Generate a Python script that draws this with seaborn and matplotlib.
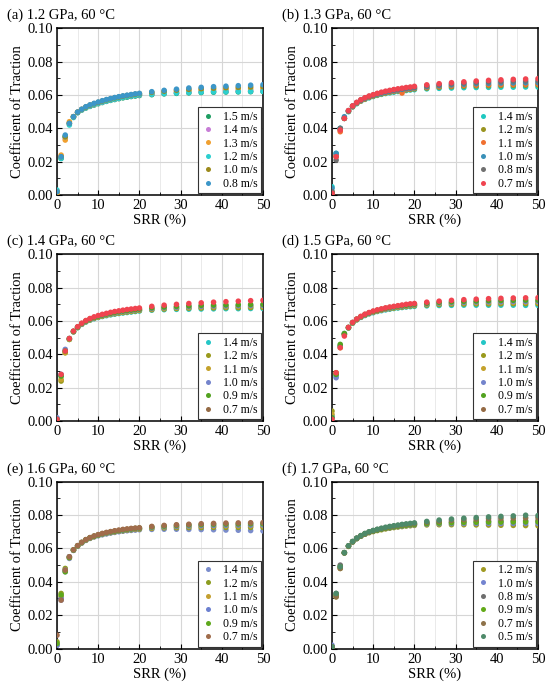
"""
Traction curves: coefficient of traction vs SRR at 60 C for six contact pressures.
Six panels, one per pressure, each with six entrainment speeds.
"""

import numpy as np
import pandas as pd
import matplotlib
matplotlib.use("Agg")
import matplotlib.pyplot as plt
from matplotlib.lines import Line2D
from matplotlib.ticker import MultipleLocator, FormatStrFormatter
import seaborn as sns

# ------------------------------------------------------------------ data
SRR = [0, 1, 2, 3, 4, 5, 6, 7, 8, 9, 10, 11, 12, 13, 14, 15, 16, 17, 18, 19, 20,
       23, 26, 29, 32, 35, 38, 41, 44, 47, 50]

TITLES = ["(a) 1.2 GPa, 60 \u00b0C", "(b) 1.3 GPa, 60 \u00b0C", "(c) 1.4 GPa, 60 \u00b0C",
          "(d) 1.5 GPa, 60 \u00b0C", "(e) 1.6 GPa, 60 \u00b0C", "(f) 1.7 GPa, 60 \u00b0C"]

SPEEDS_A = ["1.5 m/s", "1.4 m/s", "1.3 m/s", "1.2 m/s", "1.0 m/s", "0.8 m/s"]
SPEEDS_B = ["1.4 m/s", "1.2 m/s", "1.1 m/s", "1.0 m/s", "0.8 m/s", "0.7 m/s"]
SPEEDS_C = ["1.4 m/s", "1.2 m/s", "1.1 m/s", "1.0 m/s", "0.9 m/s", "0.7 m/s"]
SPEEDS_D = ["1.4 m/s", "1.2 m/s", "1.1 m/s", "1.0 m/s", "0.9 m/s", "0.7 m/s"]
SPEEDS_E = ["1.4 m/s", "1.2 m/s", "1.1 m/s", "1.0 m/s", "0.9 m/s", "0.7 m/s"]
SPEEDS_F = ["1.2 m/s", "1.0 m/s", "0.8 m/s", "0.9 m/s", "0.7 m/s", "0.5 m/s"]

COT_A = [
    [0.002, 0.022, 0.035, 0.043, 0.047, 0.0495, 0.051, 0.0522, 0.0532, 0.054, 0.0548, 0.0555, 0.0562, 0.0568, 0.0573, 0.0578, 0.0583, 0.0587, 0.0591, 0.0594, 0.0597, 0.0602, 0.0607, 0.061, 0.0613, 0.0615, 0.0617, 0.0618, 0.0619, 0.062, 0.0621],
    [0.002, 0.023, 0.034, 0.043, 0.047, 0.0495, 0.0512, 0.0525, 0.0535, 0.0543, 0.0551, 0.0558, 0.0565, 0.0571, 0.0577, 0.0582, 0.0587, 0.0591, 0.0595, 0.0598, 0.0601, 0.0607, 0.0612, 0.0616, 0.0619, 0.0622, 0.0624, 0.0626, 0.0627, 0.0628, 0.0629],
    [0.001, 0.024, 0.033, 0.044, 0.047, 0.0497, 0.0513, 0.0527, 0.0537, 0.0546, 0.0554, 0.0561, 0.0568, 0.0574, 0.058, 0.0585, 0.059, 0.0594, 0.0598, 0.0602, 0.0605, 0.0612, 0.0618, 0.0623, 0.0627, 0.063, 0.0633, 0.0635, 0.0637, 0.0638, 0.064],
    [0.003, 0.022, 0.035, 0.042, 0.0465, 0.0494, 0.0511, 0.0524, 0.0534, 0.0543, 0.0551, 0.0558, 0.0564, 0.057, 0.0576, 0.0581, 0.0586, 0.059, 0.0594, 0.0598, 0.0601, 0.0605, 0.0609, 0.0612, 0.0615, 0.0617, 0.0619, 0.062, 0.0621, 0.0622, 0.0622],
    [0.002, 0.023, 0.035, 0.043, 0.047, 0.0497, 0.0514, 0.0528, 0.0539, 0.0548, 0.0556, 0.0564, 0.0571, 0.0577, 0.0583, 0.0588, 0.0593, 0.0597, 0.0601, 0.0605, 0.0608, 0.0616, 0.0623, 0.0629, 0.0634, 0.0638, 0.0641, 0.0644, 0.0646, 0.0648, 0.065],
    [0.002, 0.023, 0.036, 0.043, 0.047, 0.0498, 0.0515, 0.053, 0.0541, 0.055, 0.0558, 0.0566, 0.0573, 0.0579, 0.0585, 0.059, 0.0595, 0.0599, 0.0603, 0.0607, 0.061, 0.062, 0.0628, 0.0635, 0.0642, 0.0646, 0.065, 0.0653, 0.0656, 0.0659, 0.0662],
]
COT_B = [
    [0.005, 0.025, 0.040, 0.046, 0.050, 0.0528, 0.0548, 0.0563, 0.0574, 0.0583, 0.0591, 0.0598, 0.0604, 0.0609, 0.0613, 0.0617, 0.0621, 0.0624, 0.0627, 0.063, 0.0632, 0.0637, 0.064, 0.0642, 0.0644, 0.0645, 0.0646, 0.0647, 0.0647, 0.0648, 0.0648],
    [0.002, 0.023, 0.039, 0.046, 0.0502, 0.053, 0.055, 0.0565, 0.0576, 0.0586, 0.0594, 0.0601, 0.0607, 0.0612, 0.0617, 0.0621, 0.0625, 0.0628, 0.0631, 0.0634, 0.0637, 0.0642, 0.0647, 0.065, 0.0653, 0.0655, 0.0656, 0.0657, 0.0658, 0.0659, 0.066],
    [0.001, 0.024, 0.038, 0.046, 0.0503, 0.0531, 0.0551, 0.0566, 0.0578, 0.0588, 0.0596, 0.0603, 0.0609, 0.0614, 0.0619, 0.0623, 0.0627, 0.0612, 0.0634, 0.0637, 0.064, 0.0646, 0.0651, 0.0655, 0.0658, 0.066, 0.0662, 0.0663, 0.0664, 0.0665, 0.0666],
    [0.004, 0.025, 0.040, 0.047, 0.0505, 0.0533, 0.0553, 0.0568, 0.058, 0.059, 0.0598, 0.0605, 0.0611, 0.0617, 0.0622, 0.0626, 0.063, 0.0634, 0.0637, 0.064, 0.0643, 0.065, 0.0656, 0.0661, 0.0665, 0.0668, 0.067, 0.0672, 0.0673, 0.0674, 0.0675],
    [0.002, 0.021, 0.040, 0.046, 0.0506, 0.0534, 0.0555, 0.057, 0.0582, 0.0592, 0.06, 0.0608, 0.0614, 0.062, 0.0625, 0.063, 0.0634, 0.0637, 0.0641, 0.0644, 0.0647, 0.0655, 0.0662, 0.0667, 0.0672, 0.0676, 0.0679, 0.0681, 0.0683, 0.0684, 0.0685],
    [0.001, 0.023, 0.039, 0.046, 0.0507, 0.0535, 0.0556, 0.0572, 0.0584, 0.0594, 0.0602, 0.061, 0.0617, 0.0623, 0.0628, 0.0633, 0.0637, 0.0641, 0.0645, 0.0648, 0.0652, 0.0661, 0.0668, 0.0674, 0.0679, 0.0684, 0.0688, 0.0691, 0.0694, 0.0696, 0.0698],
]
COT_C = [
    [0.001, 0.027, 0.042, 0.049, 0.0535, 0.056, 0.058, 0.0594, 0.0605, 0.0614, 0.0621, 0.0627, 0.0632, 0.0637, 0.0641, 0.0645, 0.0648, 0.0651, 0.0654, 0.0657, 0.066, 0.0665, 0.0668, 0.067, 0.0671, 0.0672, 0.0673, 0.0674, 0.0674, 0.0675, 0.0675],
    [0.001, 0.024, 0.041, 0.049, 0.0536, 0.0561, 0.0581, 0.0596, 0.0607, 0.0616, 0.0623, 0.0629, 0.0635, 0.064, 0.0644, 0.0648, 0.0651, 0.0654, 0.0657, 0.066, 0.0663, 0.0668, 0.0672, 0.0675, 0.0677, 0.0678, 0.0679, 0.068, 0.068, 0.0681, 0.0681],
    [0.001, 0.025, 0.041, 0.049, 0.0536, 0.0562, 0.0582, 0.0597, 0.0608, 0.0617, 0.0625, 0.0631, 0.0637, 0.0642, 0.0646, 0.065, 0.0654, 0.0657, 0.066, 0.0663, 0.0666, 0.0672, 0.0676, 0.0679, 0.0681, 0.0683, 0.0685, 0.0686, 0.0687, 0.0688, 0.0688],
    [0.002, 0.028, 0.043, 0.0495, 0.0537, 0.0563, 0.0583, 0.0598, 0.061, 0.0619, 0.0627, 0.0633, 0.0639, 0.0644, 0.0649, 0.0653, 0.0657, 0.066, 0.0663, 0.0666, 0.0669, 0.0675, 0.068, 0.0683, 0.0686, 0.0688, 0.069, 0.0691, 0.0692, 0.0693, 0.0694],
    [0.001, 0.027, 0.042, 0.0495, 0.0538, 0.0564, 0.0585, 0.06, 0.0612, 0.0621, 0.0629, 0.0636, 0.0642, 0.0647, 0.0652, 0.0656, 0.066, 0.0663, 0.0666, 0.0669, 0.0672, 0.0679, 0.0684, 0.0688, 0.0691, 0.0694, 0.0696, 0.0697, 0.0698, 0.0699, 0.07],
    [0.001, 0.028, 0.042, 0.0495, 0.054, 0.0566, 0.0587, 0.0603, 0.0615, 0.0625, 0.0633, 0.064, 0.0646, 0.0652, 0.0657, 0.0661, 0.0665, 0.0669, 0.0672, 0.0675, 0.0678, 0.0688, 0.0695, 0.07, 0.0705, 0.0709, 0.0713, 0.0716, 0.0719, 0.0722, 0.0724],
]
COT_D = [
    [0.003, 0.027, 0.045, 0.052, 0.0558, 0.0587, 0.0607, 0.0622, 0.0633, 0.0643, 0.065, 0.0657, 0.0662, 0.0667, 0.0671, 0.0675, 0.0678, 0.0681, 0.0684, 0.0686, 0.0688, 0.0691, 0.0693, 0.0694, 0.0695, 0.0695, 0.0695, 0.0695, 0.0695, 0.0694, 0.0694],
    [0.006, 0.029, 0.045, 0.052, 0.0559, 0.0588, 0.0608, 0.0623, 0.0635, 0.0645, 0.0652, 0.0659, 0.0665, 0.067, 0.0674, 0.0678, 0.0681, 0.0684, 0.0687, 0.069, 0.0692, 0.0696, 0.0699, 0.0701, 0.0702, 0.0703, 0.0703, 0.0704, 0.0704, 0.0704, 0.0704],
    [0.004, 0.028, 0.044, 0.052, 0.056, 0.0589, 0.0609, 0.0624, 0.0636, 0.0646, 0.0654, 0.0661, 0.0667, 0.0672, 0.0676, 0.068, 0.0684, 0.0687, 0.069, 0.0693, 0.0695, 0.07, 0.0704, 0.0706, 0.0708, 0.0709, 0.071, 0.0711, 0.0711, 0.0711, 0.0712],
    [0.002, 0.026, 0.045, 0.0525, 0.0561, 0.059, 0.061, 0.0625, 0.0637, 0.0647, 0.0655, 0.0662, 0.0668, 0.0673, 0.0678, 0.0682, 0.0686, 0.0689, 0.0692, 0.0695, 0.0698, 0.0703, 0.0707, 0.071, 0.0712, 0.0714, 0.0715, 0.0716, 0.0717, 0.0717, 0.0718],
    [0.002, 0.028, 0.046, 0.0525, 0.0562, 0.0591, 0.0611, 0.0626, 0.0639, 0.0649, 0.0657, 0.0664, 0.067, 0.0676, 0.0681, 0.0685, 0.0689, 0.0692, 0.0695, 0.0698, 0.0701, 0.0707, 0.0712, 0.0715, 0.0718, 0.072, 0.0722, 0.0723, 0.0724, 0.0725, 0.0725],
    [0.001, 0.029, 0.044, 0.051, 0.0562, 0.0592, 0.0612, 0.0628, 0.0641, 0.0651, 0.066, 0.0667, 0.0673, 0.0679, 0.0684, 0.0688, 0.0692, 0.0696, 0.07, 0.0703, 0.0705, 0.0713, 0.0719, 0.0724, 0.0728, 0.0731, 0.0734, 0.0736, 0.0738, 0.0739, 0.074],
]
COT_E = [
    [0.002, 0.029, 0.046, 0.054, 0.0588, 0.0613, 0.0632, 0.0648, 0.066, 0.0669, 0.0676, 0.0682, 0.0687, 0.0692, 0.0696, 0.07, 0.0703, 0.0706, 0.0708, 0.071, 0.0712, 0.0714, 0.0715, 0.0715, 0.0714, 0.0713, 0.0712, 0.071, 0.0709, 0.0707, 0.0705],
    [0.004, 0.033, 0.048, 0.055, 0.059, 0.0614, 0.0634, 0.065, 0.0662, 0.0671, 0.0678, 0.0684, 0.069, 0.0695, 0.0699, 0.0703, 0.0706, 0.0709, 0.0712, 0.0714, 0.0716, 0.072, 0.0723, 0.0724, 0.0725, 0.0725, 0.0726, 0.0726, 0.0726, 0.0726, 0.0726],
    [0.003, 0.031, 0.047, 0.0545, 0.0589, 0.0614, 0.0634, 0.065, 0.0662, 0.0671, 0.0679, 0.0685, 0.0691, 0.0696, 0.07, 0.0704, 0.0708, 0.0711, 0.0714, 0.0716, 0.0718, 0.0723, 0.0727, 0.0729, 0.0731, 0.0732, 0.0733, 0.0734, 0.0734, 0.0735, 0.0735],
    [0.002, 0.030, 0.047, 0.055, 0.059, 0.0615, 0.0635, 0.0651, 0.0663, 0.0672, 0.068, 0.0686, 0.0692, 0.0697, 0.0701, 0.0705, 0.0709, 0.0712, 0.0715, 0.0718, 0.072, 0.0726, 0.073, 0.0733, 0.0735, 0.0737, 0.0738, 0.0739, 0.074, 0.074, 0.0741],
    [0.003, 0.032, 0.046, 0.0545, 0.0591, 0.0616, 0.0636, 0.0652, 0.0664, 0.0673, 0.0681, 0.0688, 0.0694, 0.0699, 0.0703, 0.0707, 0.0711, 0.0714, 0.0717, 0.072, 0.0722, 0.0729, 0.0734, 0.0738, 0.0741, 0.0743, 0.0745, 0.0746, 0.0747, 0.0748, 0.0748],
    [0.008, 0.029, 0.047, 0.055, 0.0592, 0.0617, 0.0637, 0.0653, 0.0665, 0.0675, 0.0683, 0.069, 0.0696, 0.0701, 0.0706, 0.071, 0.0714, 0.0717, 0.072, 0.0722, 0.0724, 0.0732, 0.0738, 0.0742, 0.0745, 0.0748, 0.075, 0.0752, 0.0753, 0.0754, 0.0755],
]
COT_F = [
    [0.001, 0.031, 0.048, 0.0572, 0.0612, 0.0638, 0.0658, 0.0673, 0.0685, 0.0694, 0.0701, 0.0707, 0.0712, 0.0717, 0.0721, 0.0725, 0.0728, 0.0731, 0.0734, 0.0736, 0.0738, 0.0741, 0.0742, 0.0742, 0.0742, 0.0741, 0.074, 0.0739, 0.0738, 0.0737, 0.0736],
    [0.002, 0.032, 0.049, 0.0573, 0.0613, 0.0639, 0.0659, 0.0674, 0.0686, 0.0696, 0.0703, 0.0709, 0.0715, 0.072, 0.0724, 0.0728, 0.0731, 0.0734, 0.0737, 0.074, 0.0742, 0.0746, 0.0748, 0.0749, 0.075, 0.075, 0.075, 0.075, 0.075, 0.075, 0.075],
    [0.001, 0.033, 0.050, 0.0574, 0.0614, 0.064, 0.066, 0.0675, 0.0687, 0.0697, 0.0705, 0.0711, 0.0717, 0.0722, 0.0727, 0.0731, 0.0735, 0.0738, 0.0741, 0.0744, 0.0746, 0.0752, 0.0756, 0.0759, 0.0761, 0.0763, 0.0764, 0.0765, 0.0766, 0.0766, 0.0767],
    [0.001, 0.032, 0.049, 0.0574, 0.0614, 0.064, 0.066, 0.0675, 0.0687, 0.0697, 0.0704, 0.071, 0.0716, 0.0721, 0.0725, 0.0729, 0.0733, 0.0736, 0.0739, 0.0742, 0.0744, 0.0749, 0.0752, 0.0754, 0.0756, 0.0757, 0.0758, 0.0758, 0.0759, 0.0759, 0.0759],
    [0.001, 0.031, 0.048, 0.0575, 0.0615, 0.0641, 0.0661, 0.0676, 0.0688, 0.0698, 0.0706, 0.0713, 0.0719, 0.0724, 0.0729, 0.0733, 0.0737, 0.0741, 0.0744, 0.0747, 0.0749, 0.0757, 0.0763, 0.0768, 0.0772, 0.0775, 0.0778, 0.078, 0.0782, 0.0783, 0.0784],
    [0.001, 0.033, 0.049, 0.0575, 0.0616, 0.0642, 0.0662, 0.0677, 0.069, 0.07, 0.0708, 0.0715, 0.0721, 0.0727, 0.0732, 0.0736, 0.074, 0.0744, 0.0747, 0.075, 0.0753, 0.0762, 0.077, 0.0776, 0.0781, 0.0785, 0.0789, 0.0792, 0.0795, 0.0799, 0.0797],
]

# marker colours in the plot, and the (sometimes different) swatch in the legend
COLORS_A = ["#1f9e62", "#c77dd6", "#f0a030", "#2ccfcf", "#9c8a1c", "#3c96c8"]
COLORS_B = ["#1ec8c0", "#9a9420", "#f07030", "#3a90b8", "#707070", "#f04450"]
COLORS_C = ["#24c6c6", "#9a9a1c", "#c4a22c", "#7484cc", "#52a220", "#f04450"]
COLORS_D = ["#24c6c6", "#9a9a1c", "#c4a22c", "#7484cc", "#52a220", "#f04450"]
COLORS_E = ["#7a8ccc", "#8c9c20", "#c4a030", "#6c80d0", "#5ea81c", "#a06c4c"]
COLORS_F = ["#a09a22", "#7484d0", "#6e6e6e", "#62aa18", "#8e724a", "#4e8a6a"]
LEG_CD = ["#24c6c6", "#9a9a1c", "#c4a22c", "#7484cc", "#52a220", "#946a44"]

PANELS = [
    (SPEEDS_A, COT_A, COLORS_A, COLORS_A),
    (SPEEDS_B, COT_B, COLORS_B, COLORS_B),
    (SPEEDS_C, COT_C, COLORS_C, LEG_CD),
    (SPEEDS_D, COT_D, COLORS_D, LEG_CD),
    (SPEEDS_E, COT_E, COLORS_E, COLORS_E),
    (SPEEDS_F, COT_F, COLORS_F, COLORS_F),
]

sns.set_theme(style="ticks")
plt.rcParams["font.family"] = ["Liberation Serif", "DejaVu Serif"]
for key in ["text.color", "axes.labelcolor", "xtick.color", "ytick.color"]:
    plt.rcParams[key] = "black"

W, H = 550, 686
fig = plt.figure(figsize=(W / 100, H / 100), dpi=100)

lefts = [57, 332]
tops = [28.3, 254.3, 481.7]
ax_w, ax_h = 206, 166.8

for i, (speeds, cot, colors, leg_colors) in enumerate(PANELS):
    col, row = i % 2, i // 2
    ax = fig.add_axes([lefts[col] / W, 1 - (tops[row] + ax_h) / H, ax_w / W, ax_h / H])

    # long-form table for seaborn
    frames = []
    for spd, vals in zip(speeds, cot):
        frames.append(pd.DataFrame({"SRR": SRR, "CoT": vals, "speed": spd}))
    df = pd.concat(frames, ignore_index=True)

    ax.grid(which="major", color="#d6d6d6", lw=0.8, zorder=0)
    ax.grid(which="minor", axis="x", color="#e6e6e6", lw=0.6, zorder=0)
    ax.set_axisbelow(True)

    sns.scatterplot(data=df, x="SRR", y="CoT", hue="speed", hue_order=speeds,
                    palette=dict(zip(speeds, colors)), s=16, linewidth=0,
                    legend=False, ax=ax, zorder=3)

    ax.set_xlim(0, 50)
    ax.set_ylim(0, 0.10)
    ax.xaxis.set_major_locator(MultipleLocator(10))
    ax.xaxis.set_minor_locator(MultipleLocator(5))
    ax.yaxis.set_major_locator(MultipleLocator(0.02))
    ax.yaxis.set_minor_locator(MultipleLocator(0.01))
    ax.yaxis.set_major_formatter(FormatStrFormatter("%.2f"))
    ax.tick_params(which="both", direction="in", labelsize=10.5, color="black")
    ax.tick_params(which="major", length=3.5, width=0.8, pad=3)
    ax.tick_params(which="minor", length=2, width=0.6)
    for sp in ax.spines.values():
        sp.set_color("black")
        sp.set_linewidth(1.1)

    ax.set_xlabel("SRR (%)", fontsize=10.5, labelpad=1)
    ax.set_ylabel("Coefficient of Traction", fontsize=10.5, labelpad=2)
    ax.text(-0.243, 1.035, TITLES[i], transform=ax.transAxes, ha="left",
            va="bottom", fontsize=10.5)

    handles = [Line2D([], [], ls="", marker="o", markersize=3.6, color=c,
                      markeredgewidth=0) for c in leg_colors]
    ax.legend(handles, speeds, loc="lower right", fontsize=8.5, frameon=True,
              fancybox=False, framealpha=1, edgecolor="#333333",
              borderaxespad=0.15, handlelength=1.0, handletextpad=0.8,
              labelspacing=0.12, borderpad=0.3).get_frame().set_linewidth(0.8)

fig.savefig("out.png", dpi=100)
